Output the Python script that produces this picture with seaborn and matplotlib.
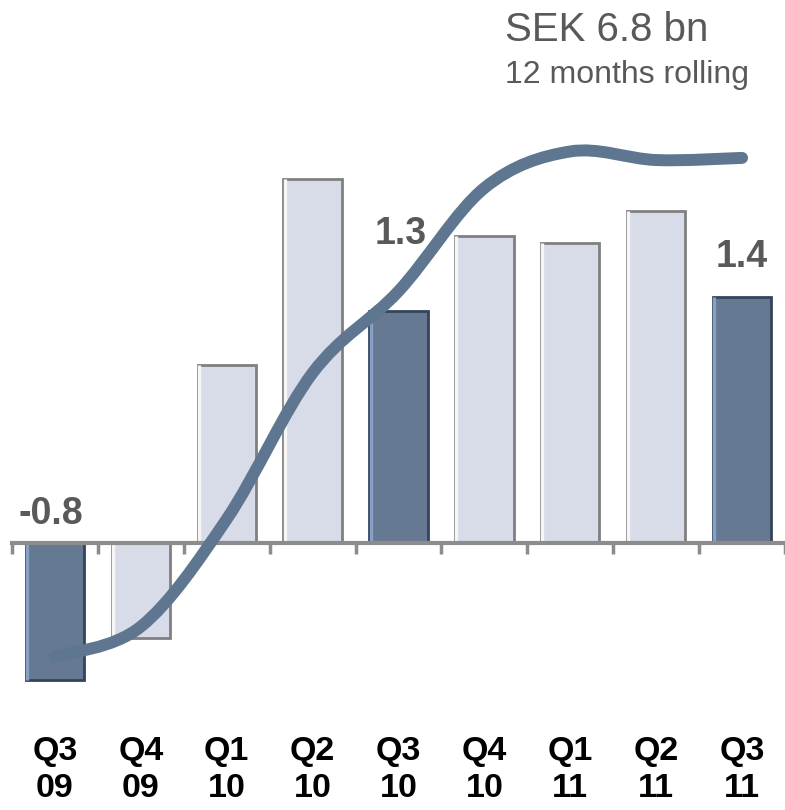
import numpy as np
import pandas as pd
import matplotlib
matplotlib.use("Agg")
import matplotlib.pyplot as plt
from matplotlib.path import Path
from matplotlib.patches import PathPatch
import seaborn as sns

# ---- data ----
quarters = ["Q3\n09", "Q4\n09", "Q1\n10", "Q2\n10", "Q3\n10", "Q4\n10", "Q1\n11", "Q2\n11", "Q3\n11"]
quarterly = [-0.77, -0.53, 1.0, 2.04, 1.3, 1.72, 1.68, 1.86, 1.38]
rolling_12m = [-4.9, -4.2, -1.7, 1.7, 3.6, 6.0, 6.85, 6.65, 6.7]
highlight = [True, False, False, False, True, False, False, False, True]
value_labels = {0: "-0.8", 4: "1.3", 8: "1.4"}
title_main = "SEK 6.8 bn"
title_sub = "12 months rolling"

DARK = "#5f7899"
LIGHT = "#d5d9eb"
LINE = "#5e7690"
GREY_TXT = "#595959"
AXIS = "#8c8c8c"

sns.set_theme(style="white")
plt.rcParams["font.family"] = ["Liberation Sans", "DejaVu Sans"]

fig = plt.figure(figsize=(7.85, 8.10), dpi=100)
ax = fig.add_axes([12 / 785, 110 / 810, 1 - 12 / 785, 600 / 810])

df = pd.DataFrame({"q": quarters, "v": quarterly,
                   "kind": ["dark" if h else "light" for h in highlight]})
sns.barplot(data=df, x="q", y="v", hue="kind", palette={"dark": DARK, "light": LIGHT},
            dodge=False, width=0.68, legend=False, ax=ax, order=quarters)

# bevel-like edges
for p in ax.patches:
    fc = p.get_facecolor()
    dark = fc[0] < 0.6
    p.set_edgecolor("#34445a" if dark else "#808080")
    p.set_linewidth(2)
    x0, y0 = p.get_x(), p.get_y()
    h = p.get_height()
    ax.plot([x0 + 0.014, x0 + 0.014], [y0, y0 + h], color="#86a0c6" if dark else "#f6f6f6",
            lw=2.4, solid_capstyle="butt", zorder=p.get_zorder() + 0.1)

ax.set_xlim(-0.5, 8.5)
ax.set_ylim(-(700 - 543) / 178.5, (543 - 100) / 178.5)
ax.set_xlabel("")
ax.set_ylabel("")
ax.set_yticks([])
for s in ["top", "right", "left"]:
    ax.spines[s].set_visible(False)
ax.spines["bottom"].set_position(("data", 0))
ax.spines["bottom"].set_color(AXIS)
ax.spines["bottom"].set_linewidth(3)
ax.set_xticks(range(len(quarters)))
ax.set_xticklabels(quarters, fontsize=24.5, fontweight="bold", color="black", linespacing=1.24)
ax.set_xticks(np.arange(-0.5, len(quarters), 1.0), minor=True)
ax.tick_params(axis="x", which="major", length=0, pad=139)
ax.tick_params(axis="x", which="minor", length=8, width=2.5, color=AXIS, direction="out", bottom=True)

# value labels
for i, txt in value_labels.items():
    v = quarterly[i]
    if v < 0:
        ax.text(i - 0.05, 0.06, txt, ha="center", va="bottom", fontsize=27,
                fontweight="bold", color=GREY_TXT)
    elif i == 4:
        ax.text(i + 0.03, v + 0.33, txt, ha="center", va="bottom", fontsize=27,
                fontweight="bold", color=GREY_TXT)
    else:
        ax.text(i, v + 0.12, txt, ha="center", va="bottom", fontsize=27,
                fontweight="bold", color=GREY_TXT)

# rolling line on twin axis (smooth curve)
ax2 = ax.twinx()
ax2.set_ylim(-(700 - 446) / 43, (446 - 100) / 43)
ax2.set_yticks([])
for s in ax2.spines.values():
    s.set_visible(False)

xs = np.arange(len(rolling_12m), dtype=float)
ys = np.array(rolling_12m, dtype=float)
verts = [(xs[0], ys[0])]
codes = [Path.MOVETO]
n = len(xs)
t = 1 / 6
for k in range(n - 1):
    p0 = (xs[max(k - 1, 0)], ys[max(k - 1, 0)])
    p1 = (xs[k], ys[k])
    p2 = (xs[k + 1], ys[k + 1])
    p3 = (xs[min(k + 2, n - 1)], ys[min(k + 2, n - 1)])
    c1 = (p1[0] + (p2[0] - p0[0]) * t, p1[1] + (p2[1] - p0[1]) * t)
    c2 = (p2[0] - (p3[0] - p1[0]) * t, p2[1] - (p3[1] - p1[1]) * t)
    verts += [c1, c2, p2]
    codes += [Path.CURVE4] * 3
ax2.add_patch(PathPatch(Path(verts, codes), facecolor="none", edgecolor=LINE,
                        lw=8.6, capstyle="round", joinstyle="round", zorder=5))

fig.text(505 / 785, 1 - 30 / 810, title_main, fontsize=29, color=GREY_TXT, ha="left", va="center")
fig.text(505 / 785, 1 - 75 / 810, title_sub, fontsize=23, color=GREY_TXT, ha="left", va="center")

fig.savefig("out.png", dpi=100)
